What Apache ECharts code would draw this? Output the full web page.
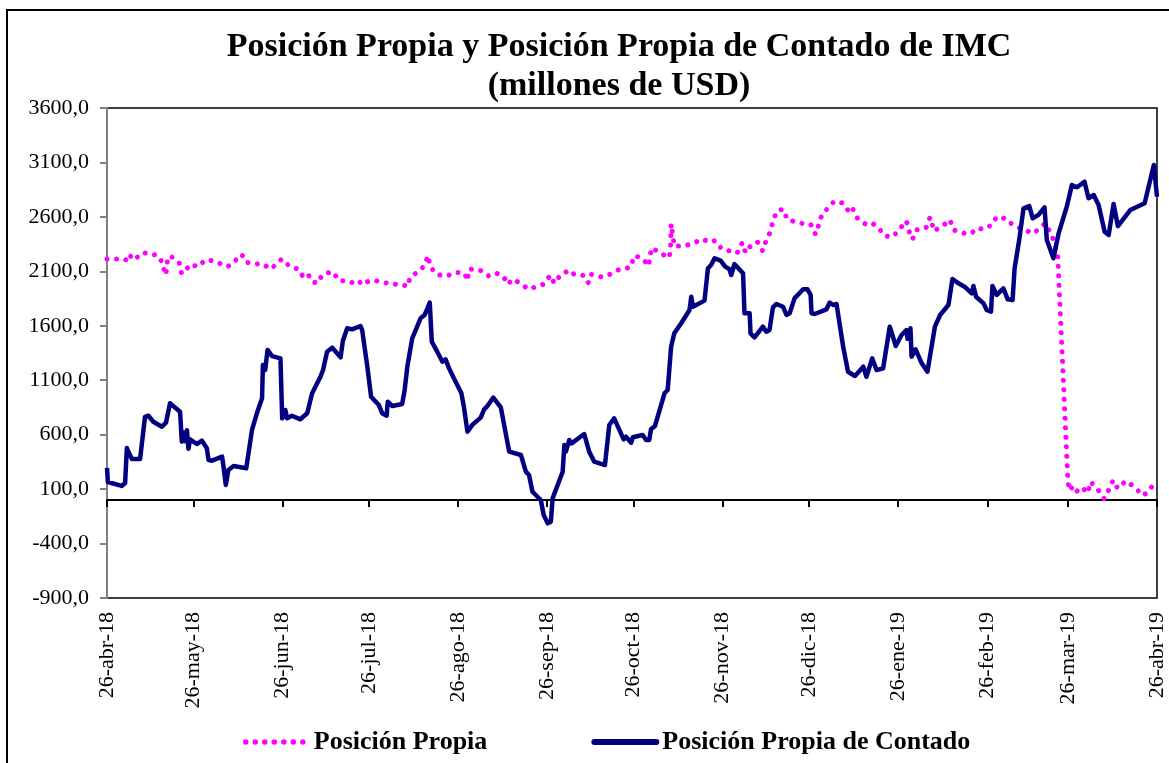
<!DOCTYPE html>
<html>
<head>
<meta charset="utf-8">
<script src="https://cdn.jsdelivr.net/npm/echarts@6/dist/echarts.min.js"></script>
<style>
html,body{margin:0;padding:0;background:#fff;}
#chart{width:1169px;height:763px;}
</style>
</head>
<body>
<div id="chart"></div>
<script>
// X positions are days elapsed since 26-abr-2018
const tickDays = [0, 30, 61, 91, 122, 153, 183, 214, 244, 275, 306, 334, 365];
const tickLabels = ['26-abr-18','26-may-18','26-jun-18','26-jul-18','26-ago-18','26-sep-18','26-oct-18','26-nov-18','26-dic-18','26-ene-19','26-feb-19','26-mar-19','26-abr-19'];
const yTicks = [-900, -400, 100, 600, 1100, 1600, 2100, 2600, 3100, 3600];

const propiaDays = [0,3.4,6.5,7.4,9.6,11.9,13.9,17.8,19.5,20.1,20.6,21.0,22.0,25.1,25.9,26.8,28.8,31.8,34.1,37.6,40.6,41.9,44.0,46.8,48.4,51.8,54.1,56.8,58.9,60.7,62.6,64.0,66.5,68.0,69.8,70.9,73.0,75.0,78.4,80.7,83.5,87.2,88.9,90.5,92.2,95.8,98.8,102.6,104.4,105.5,108.8,110.4,111.6,112.3,114.8,118.1,121.2,124.3,125.3,125.8,128.2,131.1,132.7,135.3,137.8,139.2,141.3,144.4,146.7,149.7,152.0,154.1,155.5,157.8,159.8,160.9,162.7,165.9,167.3,168.2,172.0,175.2,177.7,180.1,182.2,183.1,185.9,188.3,188.8,189.4,192.4,195.5,195.9,196.1,197.2,200.7,203.7,207.0,209.4,211.4,213.8,215.6,217.6,219.1,220.8,222.0,224.0,226.1,227.9,229.2,230.7,231.5,233.0,235.1,236.5,238.8,242.5,244.6,246.3,247.4,248.6,250.9,252.8,255.7,257.9,259.0,260.9,263.8,265.8,268.1,270.4,273.0,275.6,277.6,278.3,279.1,280.0,281.4,284.7,286.1,286.7,287.2,289.2,291.3,293.0,294.3,298.0,300.6,302.0,305.6,307.6,309.3,312.8,314.8,320.5,322.2,324.4,326.1,328.2,329.6,330.5,334.0,334.5,336.0,337.8,340.1,341.0,341.9,344.4,346.6,348.2,349.7,351.3,354.2,357.3,360.0,362.1,363.9,365];
const propiaValues = [2213,2213,2204,2259,2204,2268,2268,2244,2167,2066,2097,2204,2244,2177,2082,2085,2164,2143,2204,2195,2152,2143,2183,2256,2183,2167,2170,2121,2164,2213,2167,2137,2121,2057,2082,2014,1990,2073,2097,2014,2014,1977,2027,2005,2018,2002,1981,1981,1959,2051,2106,2155,2244,2143,2069,2057,2091,2082,2014,2119,2121,2097,2057,2082,2057,1981,2030,1975,1935,1965,1984,2064,1990,2073,2097,2064,2082,2060,1996,2073,2048,2076,2112,2124,2140,2241,2225,2149,2250,2317,2265,2225,2326,2535,2333,2333,2357,2397,2367,2382,2302,2290,2290,2271,2363,2271,2345,2370,2287,2388,2468,2569,2657,2670,2574,2558,2535,2532,2440,2528,2627,2688,2745,2728,2648,2685,2587,2532,2547,2504,2425,2415,2486,2565,2535,2440,2394,2480,2501,2596,2565,2473,2495,2535,2574,2480,2449,2449,2492,2492,2532,2602,2581,2526,2464,2449,2501,2541,2443,2342,2235,184,86,132,61,101,70,168,98,12,92,181,107,175,117,40,76,153,150];

const contadoDays = [0,0.3,5.1,6.3,6.9,8.6,11.5,13.2,14.4,16.1,19.1,20.5,21.9,22.5,25.4,26.0,26.6,27.2,27.8,28.3,28.9,31.2,33.0,34.7,35.3,36.5,40.0,40.5,41.3,42.2,44.0,48.4,50.4,52.1,53.9,54.2,55.0,55.8,57.4,60.3,60.9,62.0,62.6,64.3,67.2,69.6,71.3,74.2,75.1,76.5,78.3,81.2,82.0,83.5,85.2,88.1,88.7,90.5,91.8,94.5,95.7,97.2,97.6,99.2,102.6,103.4,104.4,106.1,109.0,110.4,111.4,112.2,112.9,114.8,116.6,117.7,118.9,120.6,123.2,124.1,125.3,127.0,129.9,131.1,132.3,134.3,136.9,139.8,143.9,145.6,146.7,147.9,150.8,151.8,153.2,154.3,154.9,158.4,159.0,159.5,160.7,161.5,165.9,167.6,169.4,173.1,174.6,176.3,179.6,180.4,182.2,182.8,186.2,187.4,188.5,189.1,190.5,193.8,194.9,195.5,196.1,197.2,199.6,202.5,203.1,203.7,207.7,208.9,210.0,211.2,213.3,214.9,216.4,217.0,218.1,221.1,221.6,223.4,223.7,225.1,228.0,229.2,230.3,231.5,232.7,235.0,236.2,237.3,239.0,242.0,243.5,244.6,244.9,246.0,250.1,251.2,252.4,253.6,255.9,257.6,260.0,262.9,264.0,266.0,267.5,269.8,272.1,274.2,276.2,277.9,278.3,279.3,279.7,281.1,283.2,285.2,287.8,289.6,292.5,293.9,296.0,298.1,300.6,301.2,302.1,304.7,305.8,307.3,307.8,309.3,311.6,313.1,314.8,315.5,317.1,318.6,320.6,321.8,323.8,325.9,326.7,329.0,330.8,333.7,335.4,337.2,339.8,341.2,343.0,344.7,346.8,348.2,349.9,351.4,355.7,360.7,363.9,365];
const contadoValues = [294,165,129,156,477,377,377,763,774,719,673,710,888,897,811,536,620,540,640,470,557,514,545,475,367,361,398,306,138,276,312,291,643,796,934,1240,1194,1378,1322,1301,750,827,750,774,741,796,980,1132,1194,1362,1399,1310,1463,1577,1567,1598,1561,1224,949,872,796,774,903,863,882,995,1224,1485,1669,1699,1760,1812,1454,1362,1270,1292,1209,1117,980,850,627,690,757,833,865,940,850,444,413,260,230,76,0,-138,-214,-199,15,260,505,444,551,520,606,444,352,321,689,750,557,582,526,576,597,551,551,649,680,980,1010,1010,1408,1531,1623,1745,1867,1775,1831,2128,2158,2220,2198,2143,2119,2066,2167,2082,1715,1715,1531,1494,1592,1546,1561,1770,1800,1775,1699,1715,1852,1935,1935,1883,1715,1708,1751,1812,1791,1800,1408,1178,1139,1224,1132,1301,1194,1209,1592,1414,1515,1561,1480,1577,1316,1384,1255,1178,1592,1699,1791,2030,1990,1959,1898,1965,1867,1806,1745,1729,1965,1883,1944,1843,1837,2128,2388,2679,2700,2587,2618,2688,2388,2220,2449,2700,2893,2872,2923,2771,2801,2709,2464,2434,2718,2516,2663,2725,3077,2786];

const FONT = "'Times New Roman', 'Liberation Serif', serif";
const PINK = '#FF00FF', NAVY = '#000080';
const DOTS = [0.01, 9.5];
const chart = echarts.init(document.getElementById('chart'), null, {renderer: 'canvas'});
const labelFor = v => {
  const i = tickDays.indexOf(Math.round(v));
  return i >= 0 ? tickLabels[i] : '';
};
chart.setOption({
  animation: false,
  backgroundColor: '#fff',
  graphic: [{
    type: 'rect', shape: {x: 7, y: 10, width: 1300, height: 900},
    style: {fill: 'none', stroke: '#000', lineWidth: 2}, silent: true, z: -1
  }],
  title: {
    text: 'Posición Propia y Posición Propia de Contado de IMC\n(millones de USD)',
    left: 614, top: 23, textAlign: 'center',
    textStyle: {fontFamily: FONT, fontWeight: 'bold', fontSize: 34, lineHeight: 39, color: '#000'}
  },
  legend: {
    left: 243, top: 729, padding: 0,
    itemWidth: 62, itemHeight: 14, itemGap: 104,
    itemStyle: {opacity: 0},
    textStyle: {fontFamily: FONT, fontWeight: 'bold', fontSize: 26, color: '#000', padding: [0, 0, 0, 1]},
    data: [
      {name: 'Posición Propia', lineStyle: {color: PINK, width: 5.5, type: DOTS, cap: 'round'}},
      {name: 'Posición Propia de Contado', lineStyle: {color: NAVY, width: 6, type: 'solid', cap: 'round'}}
    ]
  },
  grid: {left: 107, right: 12, top: 108, bottom: 165, show: true, borderColor: '#000', borderWidth: 1.5, containLabel: false},
  xAxis: [{
    type: 'value', min: 0, max: 365,
    axisLine: {show: true, onZero: true, lineStyle: {color: '#000', width: 2}},
    axisTick: {show: true, inside: false, length: 7, customValues: tickDays, lineStyle: {color: '#000', width: 2}},
    axisLabel: {show: false},
    splitLine: {show: false}
  }, {
    type: 'value', min: 0, max: 365, position: 'bottom',
    axisLine: {show: false, onZero: false},
    axisTick: {show: false},
    axisLabel: {show: true, rotate: 90, margin: 14, customValues: tickDays, formatter: labelFor,
      fontFamily: FONT, fontSize: 22, color: '#000'},
    splitLine: {show: false}
  }],
  yAxis: {
    type: 'value', min: -900, max: 3600, interval: 500,
    axisLine: {show: true, lineStyle: {color: '#808080', width: 2}},
    axisTick: {show: true, inside: false, length: 7, customValues: yTicks, lineStyle: {color: '#808080', width: 2}},
    axisLabel: {show: true, margin: 18, customValues: yTicks,
      formatter: v => v.toFixed(1).replace('.', ','),
      fontFamily: FONT, fontSize: 22, color: '#000'},
    splitLine: {show: false}
  },
  series: [{
    name: 'Posición Propia', type: 'line', symbol: 'none',
    data: propiaDays.map((d, i) => [d, propiaValues[i]]),
    lineStyle: {color: PINK, width: 5, type: DOTS, cap: 'round', join: 'round'},
    itemStyle: {color: PINK}, z: 2
  }, {
    name: 'Posición Propia de Contado', type: 'line', symbol: 'none',
    data: contadoDays.map((d, i) => [d, contadoValues[i]]),
    lineStyle: {color: NAVY, width: 4.5, join: 'round'},
    itemStyle: {color: NAVY}, z: 3
  }]
});
</script>
</body>
</html>
